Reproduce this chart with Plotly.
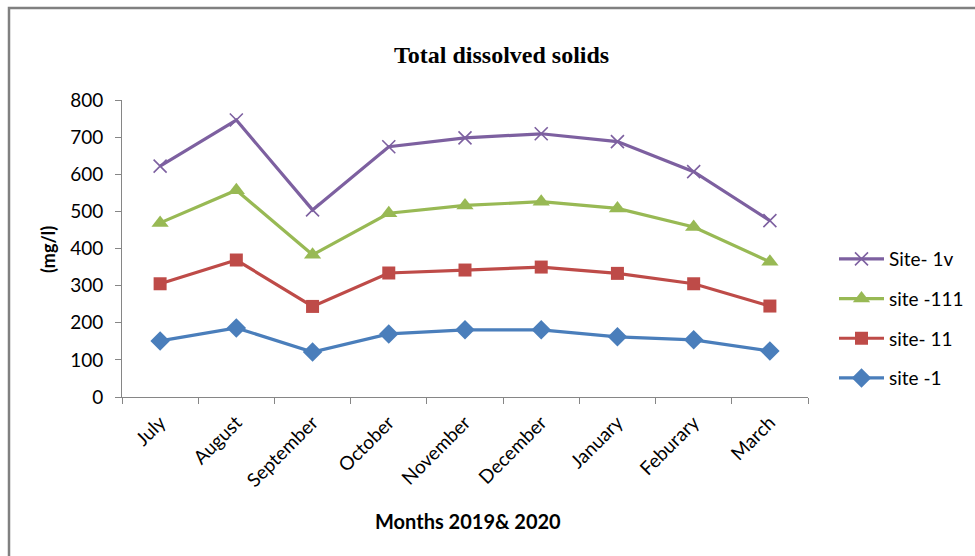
import plotly.graph_objects as go

months = ["July", "August", "September", "October", "November",
          "December", "January", "Feburary", "March"]
site_1 = [151, 186, 121, 170, 181, 181, 162, 154, 124]
site_11 = [305, 369, 244, 334, 342, 350, 333, 305, 245]
site_111 = [469, 557, 383, 495, 516, 526, 508, 458, 364]
site_1v = [622, 746, 504, 674, 698, 709, 688, 607, 475]

# name, values, colour, marker symbol, marker size, legend rank
series = [
    ("site -1", site_1, "#4A7EBB", "diamond", 15, 4),
    ("site- 11", site_11, "#BE4B48", "square", 13, 3),
    ("site -111", site_111, "#98B954", "triangle-up", 15, 2),
    ("Site- 1v", site_1v, "#7D60A0", "x-thin", 13, 1),
]

W, H = 975, 556
L, R, T, B = 122, 808, 100, 397
FONT = "Lato, Carlito, sans-serif"

fig = go.Figure()
for name, vals, color, sym, size, rank in series:
    fig.add_trace(go.Scatter(
        x=months, y=vals, name=name, mode="lines+markers",
        legendgroup=name, legendrank=rank,
        line=dict(color=color, width=3.2),
        marker=dict(symbol=sym, size=size, color=color,
                    line=dict(color=color, width=1.6 if sym == "x-thin" else 0)),
    ))


def px_x(p):
    return (p - L) / (R - L)


def px_y(p):
    return (B - p) / (B - T)


axis_gray = "#868686"
fig.update_layout(
    width=W, height=H,
    margin=dict(l=L, r=W - R, t=T, b=H - B, autoexpand=False),
    paper_bgcolor="white", plot_bgcolor="white",
    showlegend=True,
    legend=dict(
        x=px_x(834), y=px_y(240), xanchor="left", yanchor="top",
        traceorder="grouped", tracegroupgap=12,
        font=dict(family=FONT, size=19, color="#000"),
        itemwidth=45, bgcolor="rgba(0,0,0,0)",
    ),
    xaxis=dict(
        type="category", range=[-0.5, 8.5],
        showgrid=False, showline=True, linecolor=axis_gray, linewidth=1,
        ticks="outside", tickson="boundaries", ticklen=6, tickcolor=axis_gray,
        tickangle=-45, ticklabelstandoff=6,
        tickfont=dict(family=FONT, size=19, color="#000"),
        zeroline=False, automargin=False,
    ),
    yaxis=dict(
        range=[0, 800], dtick=100,
        showgrid=False, showline=True, linecolor=axis_gray, linewidth=1,
        ticks="outside", ticklen=6, tickcolor=axis_gray,
        ticklabelstandoff=8,
        tickfont=dict(family=FONT, size=19, color="#000"),
        zeroline=False, automargin=False,
    ),
    annotations=[
        dict(text="<b>Total dissolved solids</b>", xref="paper", yref="paper",
             x=px_x(501), y=px_y(55), xanchor="center", yanchor="middle",
             showarrow=False,
             font=dict(family="Liberation Serif, serif", size=24, color="#000")),
        dict(text="<b>(mg/l)</b>", xref="paper", yref="paper",
             x=px_x(48), y=px_y(250), xanchor="center", yanchor="middle",
             showarrow=False, textangle=-90,
             font=dict(family=FONT, size=18, color="#000")),
        dict(text="<b>Months 2019& 2020</b>", xref="paper", yref="paper",
             x=px_x(468), y=px_y(521), xanchor="center", yanchor="middle",
             showarrow=False,
             font=dict(family=FONT, size=20, color="#000")),
    ],
    shapes=[
        dict(type="rect", xref="paper", yref="paper",
             x0=px_x(9), x1=px_x(990), y0=px_y(8), y1=px_y(570),
             line=dict(color="#808080", width=2.5), fillcolor="rgba(0,0,0,0)",
             layer="below"),
    ],
)

fig.write_html("out.html")
